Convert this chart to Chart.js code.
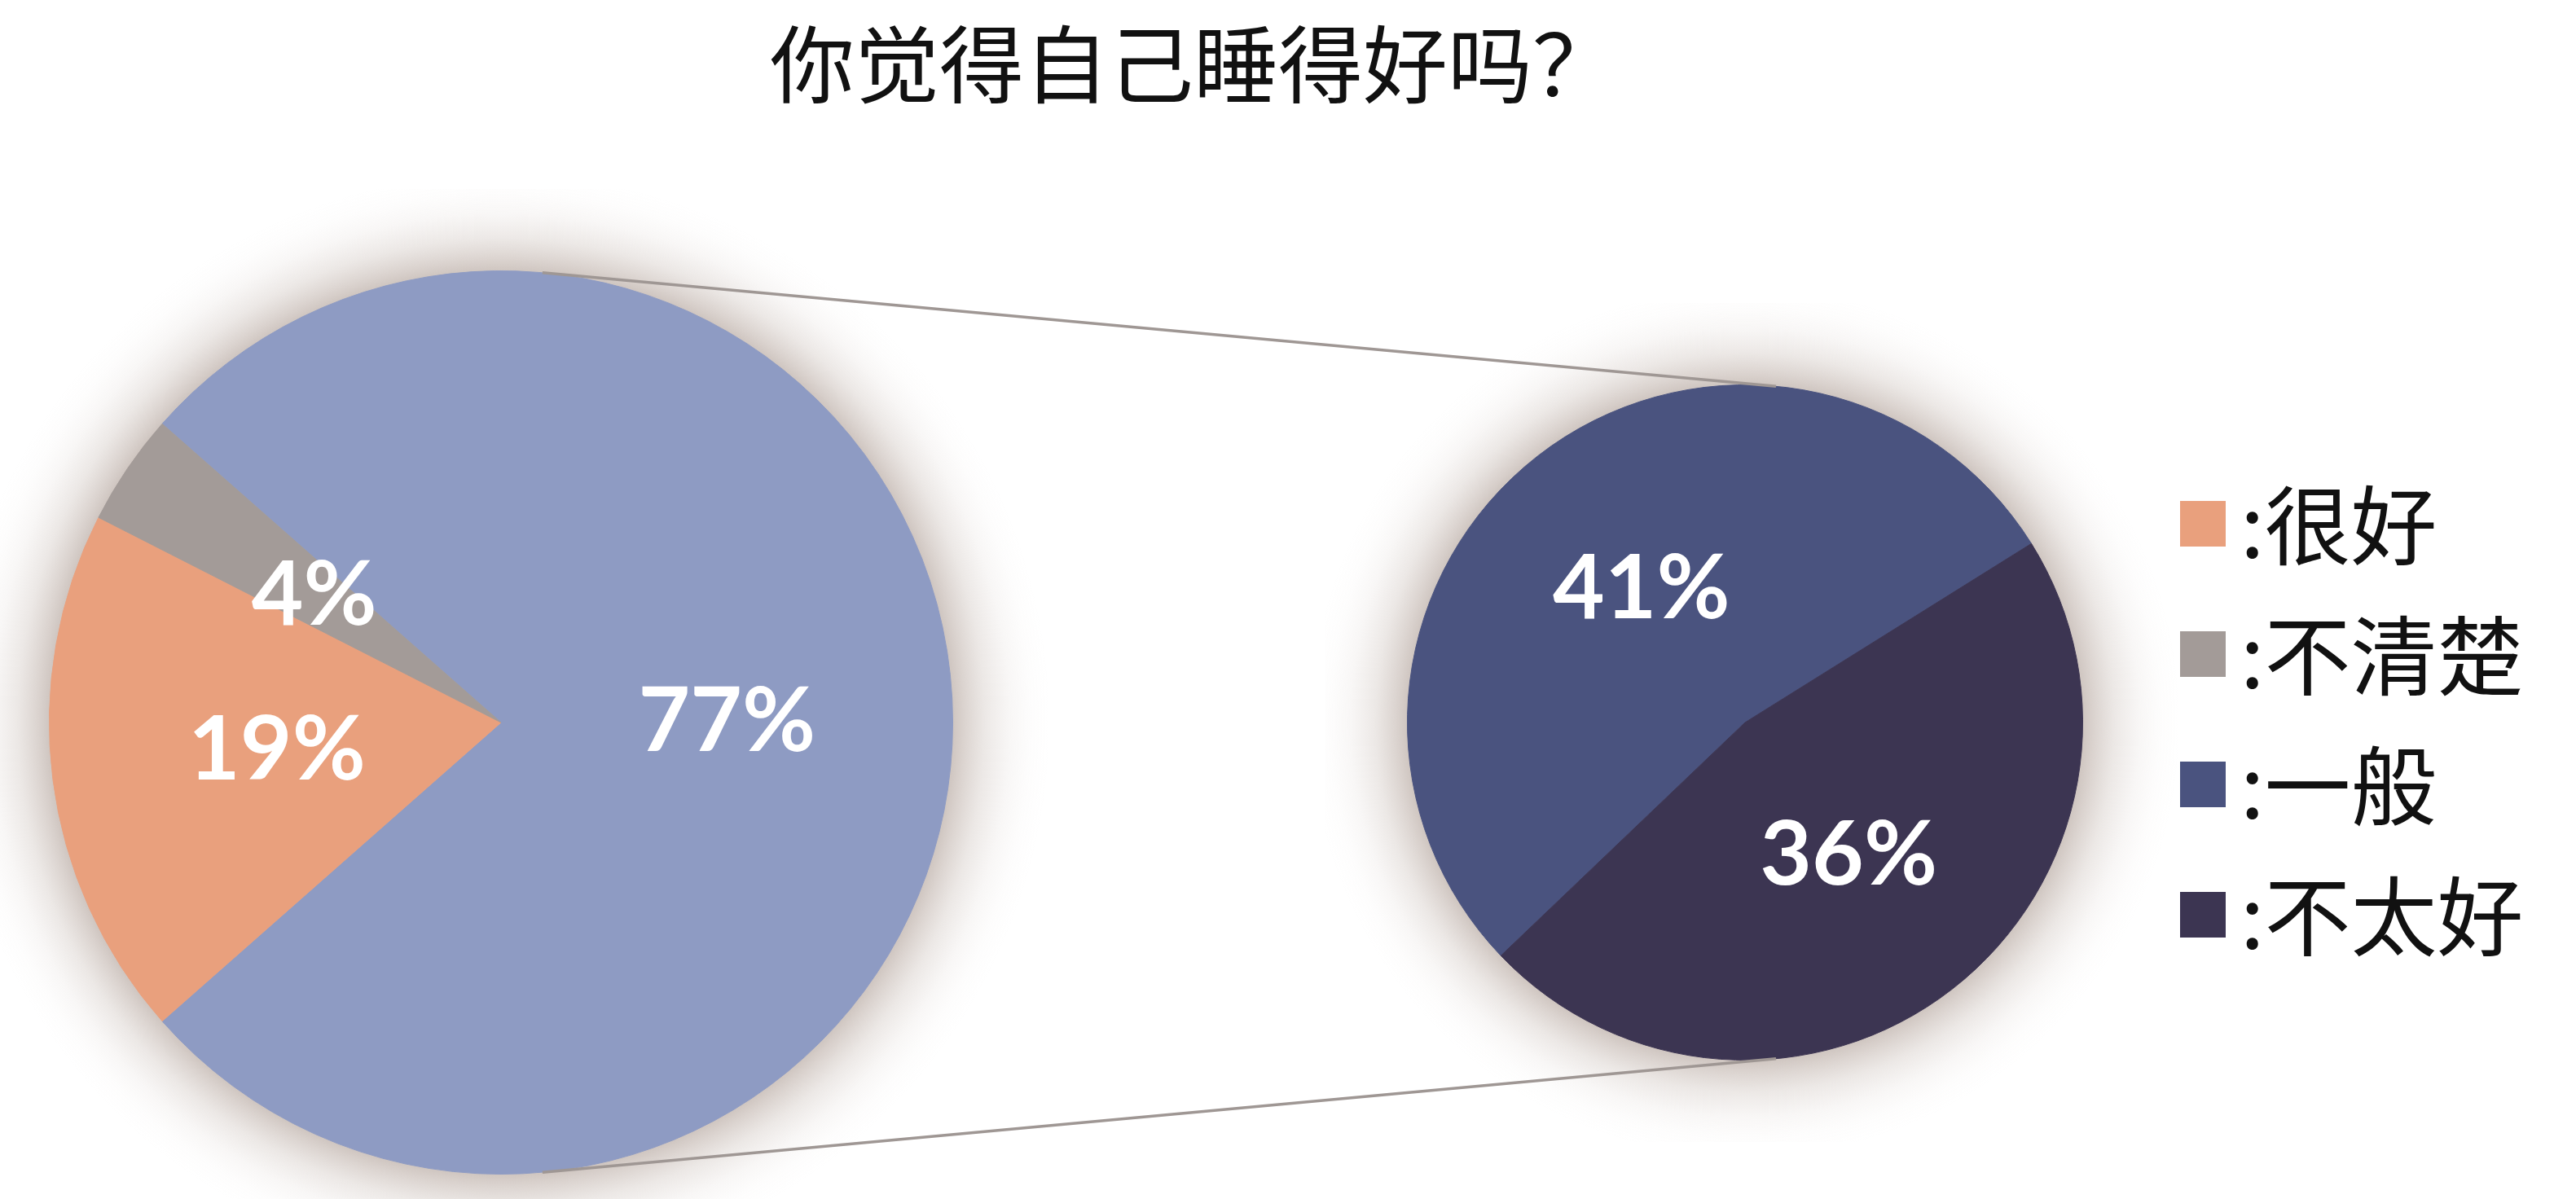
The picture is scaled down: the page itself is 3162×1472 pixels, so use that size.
<!DOCTYPE html>
<html>
<head>
<meta charset="utf-8">
<script src="https://cdn.jsdelivr.net/npm/chart.js@4/dist/chart.umd.min.js"></script>
<style>
  html, body { margin: 0; padding: 0; background: #fff; }
  body { width: 3162px; height: 1472px; overflow: hidden; position: relative; }
  #title {
    position: absolute; left: 0; top: 22px; width: 2930px; height: 104px;
    line-height: 104px; text-align: center; font-size: 104px; color: #111;
    font-family: "Noto Sans CJK SC", sans-serif; font-weight: 400; white-space: nowrap;
  }
  #mainPie { position: absolute; left: 0; top: 232px; }
  #subPie { position: absolute; left: 1627px; top: 372px; }
  #links { position: absolute; left: 0; top: 0; pointer-events: none; }
</style>
</head>
<body>
<div id="title">你觉得自己睡得好吗？</div>
<canvas id="mainPie" width="1330" height="1310"></canvas>
<canvas id="subPie" width="1535" height="1030"></canvas>
<canvas id="links" width="3162" height="1472"></canvas>
<script>
// main pie: the 77% slice is split out in the small pie
const mainLabels = ['一般 + 不太好', '很好', '不清楚'];
const mainValues = [77, 19, 4];
const mainColors = ['#8e9bc3', '#e9a07d', '#a39b98'];

// secondary pie
const subLabels = ['一般', '不太好'];
const subValues = [41, 36];
const subColors = ['#4a537f', '#3c3552'];

// legend
const legendLabels = ['很好', '不清楚', '一般', '不太好'];
const legendColors = ['#e9a07d', '#a39b98', '#4a537f', '#3c3552'];

const labelFont = 'bold 110px Lato, "Open Sans", sans-serif';

// soft glow behind each pie (radial fade out from the rim)
const glowPlugin = {
  id: 'glow',
  beforeDatasetsDraw(chart) {
    const arc = chart.getDatasetMeta(0).data[0];
    if (!arc) return;
    const ctx = chart.ctx;
    const r = arc.outerRadius;
    const spread = 120;
    const R = r + spread;
    const g = ctx.createRadialGradient(arc.x, arc.y, r - 4, arc.x, arc.y, R);
    g.addColorStop(0, 'rgba(140, 118, 106, 0.45)');
    g.addColorStop(0.15, 'rgba(150, 128, 116, 0.34)');
    g.addColorStop(0.35, 'rgba(160, 140, 128, 0.2)');
    g.addColorStop(0.6, 'rgba(170, 150, 140, 0.08)');
    g.addColorStop(0.8, 'rgba(180, 160, 150, 0.025)');
    g.addColorStop(1, 'rgba(190, 170, 160, 0)');
    ctx.save();
    ctx.beginPath();
    ctx.arc(arc.x, arc.y, R, 0, Math.PI * 2);
    ctx.fillStyle = g;
    ctx.fill();
    ctx.restore();
  }
};

// percent labels in the middle of each slice
const percentPlugin = {
  id: 'percent',
  afterDatasetsDraw(chart) {
    const ctx = chart.ctx;
    const values = chart.data.datasets[0].data;
    ctx.save();
    ctx.font = labelFont;
    ctx.fillStyle = '#ffffff';
    ctx.textAlign = 'center';
    ctx.textBaseline = 'middle';
    chart.getDatasetMeta(0).data.forEach((arc, i) => {
      const p = arc.getCenterPoint();
      ctx.fillText(values[i] + '%', p.x, p.y);
    });
    ctx.restore();
  }
};

// legend drawn right of the small pie
const sideLegend = {
  id: 'sideLegend',
  afterDraw(chart) {
    const ctx = chart.ctx;
    const area = chart.chartArea;
    const cy = (area.top + area.bottom) / 2;
    const box = 56;
    const x0 = area.right + 119;
    ctx.save();
    ctx.font = '106px "Noto Sans CJK SC", sans-serif';
    ctx.textBaseline = 'middle';
    ctx.textAlign = 'left';
    legendLabels.forEach((lab, i) => {
      const y = cy + (i - 1.5) * 160 - 4;
      ctx.fillStyle = legendColors[i];
      ctx.fillRect(x0, y - box / 2, box, box);
      ctx.fillStyle = '#111';
      ctx.fillText(':' + lab, x0 + 74, y + 2);
    });
    ctx.restore();
  }
};

function pieOptions(rotation, padding) {
  return {
    responsive: false,
    animation: false,
    rotation: rotation,
    layout: { padding: padding },
    plugins: {
      legend: { display: false },
      tooltip: { enabled: false },
      title: { display: false }
    }
  };
}

const mainTotal = mainValues.reduce((a, b) => a + b, 0);
const subTotal = subValues.reduce((a, b) => a + b, 0);

const mainChart = new Chart(document.getElementById('mainPie'), {
  type: 'pie',
  data: {
    labels: mainLabels,
    datasets: [{ data: mainValues, backgroundColor: mainColors, borderColor: mainColors, borderWidth: 1 }]
  },
  // big slice centred on the right side, facing the small pie
  options: pieOptions(90 - (mainValues[0] / mainTotal) * 180, { left: 60, top: 100, right: 160, bottom: 100 }),
  plugins: [glowPlugin, percentPlugin]
});

const subChart = new Chart(document.getElementById('subPie'), {
  type: 'pie',
  data: {
    labels: subLabels,
    datasets: [{ data: subValues, backgroundColor: subColors, borderColor: subColors, borderWidth: 1 }]
  },
  options: pieOptions(58 - (subValues[0] / subTotal) * 360, { left: 100, top: 100, right: 605, bottom: 100 }),
  plugins: [glowPlugin, percentPlugin, sideLegend]
});

// outer tangent lines joining the two pies
function drawLinks() {
  const a = mainChart.getDatasetMeta(0).data[0];
  const b = subChart.getDatasetMeta(0).data[0];
  const offA = document.getElementById('mainPie');
  const offB = document.getElementById('subPie');
  const c1 = { x: a.x + offA.offsetLeft, y: a.y + offA.offsetTop, r: a.outerRadius };
  const c2 = { x: b.x + offB.offsetLeft, y: b.y + offB.offsetTop, r: b.outerRadius };
  const dx = c2.x - c1.x, dy = c2.y - c1.y;
  const d = Math.hypot(dx, dy);
  const ux = dx / d, uy = dy / d;
  const k = (c1.r - c2.r) / d;
  const h = Math.sqrt(1 - k * k);
  const ctx = document.getElementById('links').getContext('2d');
  ctx.strokeStyle = '#9f9794';
  ctx.lineWidth = 3.5;
  [-1, 1].forEach(s => {
    const nx = k * ux - s * h * uy;
    const ny = k * uy + s * h * ux;
    ctx.beginPath();
    ctx.moveTo(c1.x + c1.r * nx, c1.y + c1.r * ny);
    ctx.lineTo(c2.x + c2.r * nx, c2.y + c2.r * ny);
    ctx.stroke();
  });
}
drawLinks();
</script>
</body>
</html>
